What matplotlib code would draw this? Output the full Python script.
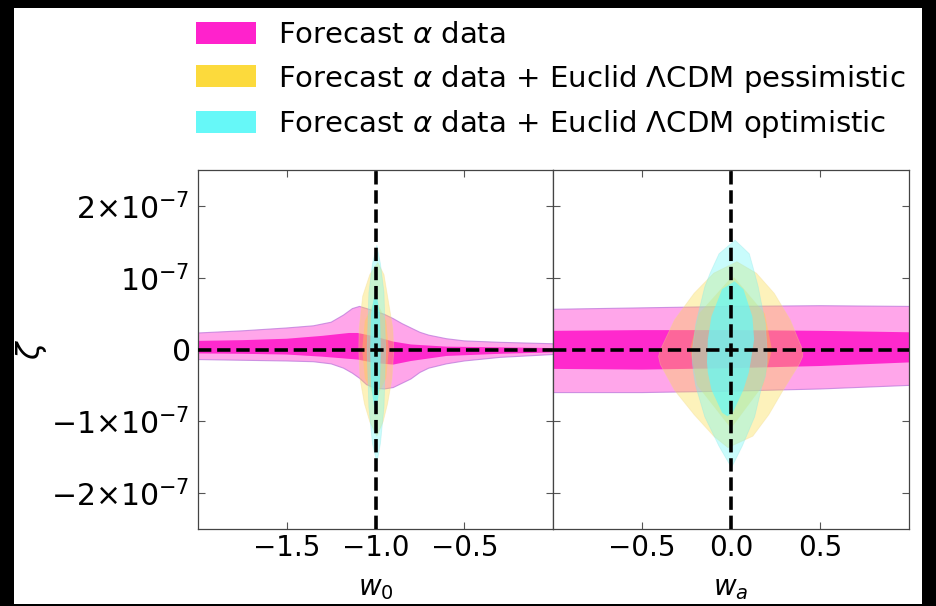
import matplotlib
matplotlib.use("Agg")
import matplotlib.pyplot as plt
from matplotlib.patches import Patch, Rectangle
import numpy as np

# ---------------- data (zeta in units of 1e-7) ----------------
labels = ["Forecast $\\alpha$ data",
          "Forecast $\\alpha$ data + Euclid $\\Lambda$CDM pessimistic",
          "Forecast $\\alpha$ data + Euclid $\\Lambda$CDM optimistic"]
colors = ["#FF22CC", "#FCDA3C", "#66F8F8"]

# Left panel (w0 vs zeta)
w0_pink = [-2.0, -1.75, -1.5, -1.35, -1.25, -1.18, -1.13, -1.09, -1.05, -1.0, -0.95, -0.9,
           -0.85, -0.8, -0.75, -0.7, -0.6, -0.5, -0.3, 0.0]
w0_pink_out_hi = [0.23, 0.26, 0.30, 0.33, 0.38, 0.48, 0.57, 0.60, 0.57, 0.53, 0.49, 0.43,
                  0.36, 0.30, 0.24, 0.20, 0.15, 0.12, 0.10, 0.08]
w0_pink_out_lo = [-0.14, -0.15, -0.16, -0.17, -0.20, -0.26, -0.33, -0.40, -0.49, -0.54, -0.55, -0.53,
                  -0.47, -0.41, -0.32, -0.26, -0.20, -0.16, -0.11, -0.07]
w0_pink_in = [-2.0, -1.75, -1.5, -1.3, -1.15, -1.1, -1.0, -0.9, -0.8, -0.6, -0.3, 0.0]
w0_pink_in_hi = [0.12, 0.13, 0.15, 0.19, 0.23, 0.23, 0.18, 0.11, 0.07, 0.04, 0.03, 0.02]
w0_pink_in_lo = [-0.055, -0.06, -0.07, -0.10, -0.13, -0.14, -0.19, -0.21, -0.16, -0.09, -0.06, -0.04]

w0_yel_out_z = [1.22, 1.05, 0.75, 0.3, 0.0, -0.4, -0.75, -1.0, -1.2]
w0_yel_out_l = [-0.99, -1.035, -1.075, -1.095, -1.097, -1.09, -1.065, -1.035, -0.995]
w0_yel_out_r = [-0.99, -0.955, -0.935, -0.905, -0.90, -0.91, -0.935, -0.96, -0.995]
w0_yel_in_z = [0.7, 0.4, 0.0, -0.4, -0.7]
w0_yel_in_l = [-1.0, -1.06, -1.075, -1.06, -1.0]
w0_yel_in_r = [-1.0, -0.94, -0.925, -0.94, -1.0]

w0_cyan_out_z = [1.46, 1.2, 0.8, 0.0, -0.8, -1.3, -1.57]
w0_cyan_out_l = [-0.995, -1.02, -1.04, -1.05, -1.04, -1.02, -0.995]
w0_cyan_out_r = [-0.995, -0.975, -0.955, -0.946, -0.955, -0.975, -0.995]
w0_cyan_in_z = [0.85, 0.5, 0.0, -0.5, -0.93]
w0_cyan_in_l = [-1.0, -1.025, -1.03, -1.025, -1.0]
w0_cyan_in_r = [-1.0, -0.975, -0.97, -0.975, -1.0]

# Right panel (wa vs zeta)
wa_pink = [-1.0, -0.5, 0.0, 0.5, 1.0]
wa_pink_out_hi = [0.56, 0.58, 0.60, 0.61, 0.60]
wa_pink_out_lo = [-0.60, -0.60, -0.58, -0.55, -0.50]
wa_pink_in_hi = [0.26, 0.27, 0.27, 0.26, 0.24]
wa_pink_in_lo = [-0.27, -0.28, -0.26, -0.23, -0.18]

wa_yel_out_z = [1.23, 1.07, 0.79, 0.42, 0.0, -0.09, -0.2, -0.56, -0.9, -1.2, -1.36]
wa_yel_out_l = [0.03, -0.10, -0.21, -0.32, -0.40, -0.41, -0.40, -0.32, -0.21, -0.10, -0.02]
wa_yel_out_r = [0.03, 0.14, 0.24, 0.33, 0.40, 0.40, 0.38, 0.29, 0.21, 0.12, -0.02]
wa_yel_in_z = [1.0, 0.5, 0.0, -0.5, -1.1]
wa_yel_in_l = [0.0, -0.18, -0.23, -0.19, 0.0]
wa_yel_in_r = [0.02, 0.19, 0.23, 0.18, 0.0]

wa_cyan_out_z = [1.53, 1.34, 1.07, 0.88, 0.37, 0.0, -0.18, -0.37, -0.51, -0.93, -1.34, -1.64]
wa_cyan_out_l = [0.02, -0.07, -0.12, -0.15, -0.20, -0.22, -0.22, -0.21, -0.20, -0.15, -0.07, 0.0]
wa_cyan_out_r = [0.02, 0.10, 0.13, 0.15, 0.19, 0.20, 0.20, 0.19, 0.17, 0.13, 0.06, 0.0]
wa_cyan_in_z = [0.95, 0.84, 0.46, 0.14, -0.18, -0.32, -0.56, -0.88, -0.93]
wa_cyan_in_l = [0.02, -0.05, -0.11, -0.13, -0.135, -0.13, -0.11, -0.05, -0.02]
wa_cyan_in_r = [0.02, 0.07, 0.12, 0.13, 0.11, 0.10, 0.07, 0.01, -0.02]

yticks = [-2, -1, 0, 1, 2]
ytick_labels = ["$-2{\\times}10^{-7}$", "$-1{\\times}10^{-7}$", "$0$", "$10^{-7}$",
                "$2{\\times}10^{-7}$"]
w0_ticks = [-1.5, -1.0, -0.5]
wa_ticks = [-0.5, 0.0, 0.5]
fid_w0, fid_wa, fid_zeta = -1.0, 0.0, 0.0

SCALE = 1e-7

# ---------------- figure ----------------
plt.rcParams['font.family'] = ['DejaVu Sans']
plt.rcParams['mathtext.fontset'] = 'dejavusans'
fig = plt.figure(figsize=(9.36, 6.06), dpi=100)
fig.patch.set_facecolor('black')
fig.add_artist(Rectangle((14 / 936, 2 / 606), (922 - 14) / 936, (598 - 2) / 606,
                         transform=fig.transFigure, facecolor='white', edgecolor='none', zorder=-5))

ax1 = fig.add_axes([198 / 936, 77 / 606, 355 / 936, 359 / 606])
ax2 = fig.add_axes([553 / 936, 77 / 606, 356 / 936, 359 / 606])

pk, yl, cy = colors
edge_pk = (0.72, 0.45, 0.85, 0.7)
edge_yl = (0.95, 0.85, 0.55, 0.6)
edge_cy = (0.55, 0.90, 0.90, 0.6)

def s(a):
    return np.asarray(a) * SCALE

# left panel
ax1.fill_between(w0_pink, s(w0_pink_out_lo), s(w0_pink_out_hi), facecolor=pk, alpha=0.4,
                 edgecolor='none', zorder=1)
ax1.plot(w0_pink, s(w0_pink_out_hi), color=edge_pk, lw=0.8, zorder=1.1)
ax1.plot(w0_pink, s(w0_pink_out_lo), color=edge_pk, lw=0.8, zorder=1.1)
ax1.fill_between(w0_pink_in, s(w0_pink_in_lo), s(w0_pink_in_hi), facecolor=pk, alpha=0.95,
                 edgecolor='none', zorder=1.2)
ax1.fill_betweenx(s(w0_yel_out_z), w0_yel_out_l, w0_yel_out_r, facecolor=yl, alpha=0.35,
                  edgecolor=edge_yl, lw=0.6, zorder=2)
ax1.fill_betweenx(s(w0_yel_in_z), w0_yel_in_l, w0_yel_in_r, facecolor=yl, alpha=0.35,
                  edgecolor='none', zorder=2.1)
ax1.fill_betweenx(s(w0_cyan_out_z), w0_cyan_out_l, w0_cyan_out_r, facecolor=cy, alpha=0.35,
                  edgecolor=edge_cy, lw=0.6, zorder=3)
ax1.fill_betweenx(s(w0_cyan_in_z), w0_cyan_in_l, w0_cyan_in_r, facecolor=cy, alpha=0.7,
                  edgecolor='none', zorder=3.1)

# right panel
ax2.fill_between(wa_pink, s(wa_pink_out_lo), s(wa_pink_out_hi), facecolor=pk, alpha=0.4,
                 edgecolor='none', zorder=1)
ax2.plot(wa_pink, s(wa_pink_out_hi), color=edge_pk, lw=0.8, zorder=1.1)
ax2.plot(wa_pink, s(wa_pink_out_lo), color=edge_pk, lw=0.8, zorder=1.1)
ax2.fill_between(wa_pink, s(wa_pink_in_lo), s(wa_pink_in_hi), facecolor=pk, alpha=0.95,
                 edgecolor='none', zorder=1.2)
ax2.fill_betweenx(s(wa_yel_out_z), wa_yel_out_l, wa_yel_out_r, facecolor=yl, alpha=0.35,
                  edgecolor=edge_yl, lw=0.6, zorder=2)
ax2.fill_betweenx(s(wa_yel_in_z), wa_yel_in_l, wa_yel_in_r, facecolor=yl, alpha=0.35,
                  edgecolor='none', zorder=2.1)
ax2.fill_betweenx(s(wa_cyan_out_z), wa_cyan_out_l, wa_cyan_out_r, facecolor=cy, alpha=0.35,
                  edgecolor=edge_cy, lw=0.6, zorder=3)
ax2.fill_betweenx(s(wa_cyan_in_z), wa_cyan_in_l, wa_cyan_in_r, facecolor=cy, alpha=0.7,
                  edgecolor='none', zorder=3.1)

for ax, fid in ((ax1, fid_w0), (ax2, fid_wa)):
    ax.axvline(fid, color='black', lw=2.6, ls='--', zorder=5)
    ax.axhline(fid_zeta, color='black', lw=2.6, ls='--', zorder=5)
    ax.set_ylim(-2.5 * SCALE, 2.5 * SCALE)
    ax.set_yticks(s(yticks))
    ax.tick_params(direction='in', top=True, right=True, length=5, width=0.8,
                   color='#555555', labelsize=20)
    ax.tick_params(axis='y', labelsize=21.5, pad=6)
    for sp in ax.spines.values():
        sp.set_color('#444444')
        sp.set_linewidth(0.9)

ax1.set_xlim(-2.0, 0.0)
ax2.set_xlim(-1.0, 1.0)
ax1.set_xticks(w0_ticks)
ax2.set_xticks(wa_ticks)
ax1.set_xticklabels(["\u2212%.1f" % abs(v) if v < 0 else "%.1f" % v for v in w0_ticks])
ax2.set_xticklabels(["\u2212%.1f" % abs(v) if v < 0 else "%.1f" % v for v in wa_ticks])
ax1.set_yticklabels(ytick_labels)
ax2.tick_params(labelleft=False)

ax1.set_xlabel("$w_0$", fontsize=20, labelpad=9)
ax2.set_xlabel("$w_a$", fontsize=20, labelpad=9)
ax1.set_ylabel("$\\zeta$", fontsize=23)
ax1.yaxis.set_label_coords(-0.42, 0.5)

handles = [Patch(facecolor=c, edgecolor='none') for c in colors]
fig.legend(handles, labels, loc='upper left', bbox_to_anchor=(190 / 936, 1 - 15 / 606),
           frameon=False, fontsize=21, handlelength=2.05, handleheight=0.78,
           handletextpad=0.75, labelspacing=0.47, borderpad=0.2, borderaxespad=0)

fig.savefig("out.png", dpi=100, facecolor=fig.get_facecolor())
